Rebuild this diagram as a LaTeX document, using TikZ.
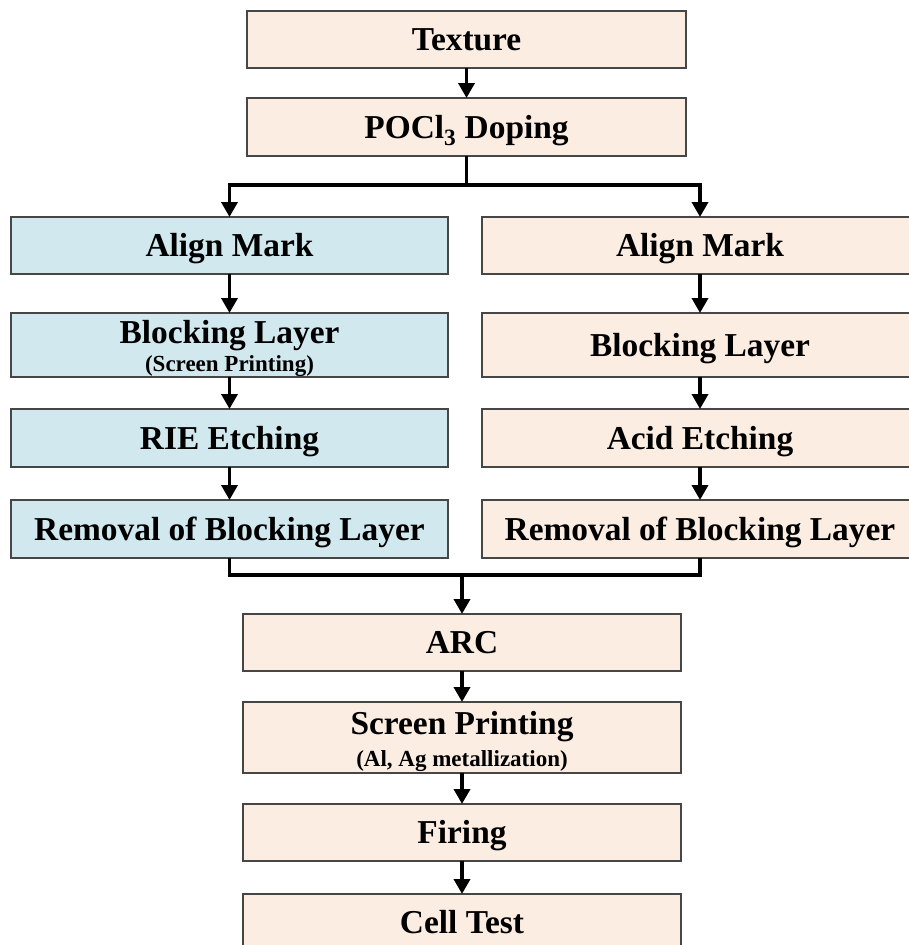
\documentclass[tikz,border=0pt]{standalone}
\usepackage{fontspec}
\setmainfont{Liberation Serif}
\usetikzlibrary{arrows.meta}
\definecolor{peach}{RGB}{252,237,226}
\definecolor{lblue}{RGB}{209,233,238}
\definecolor{edge}{RGB}{70,70,70}
\begin{document}
\begin{tikzpicture}[x=1pt,y=-1pt,
  box/.style={draw=edge, line width=1.3pt, fill=peach, inner sep=0pt, outer sep=0pt,
    font=\bfseries\fontsize{33.4}{36}\selectfont, text height=22.6pt, text depth=0pt},
  bluebox/.style={box, fill=lblue},
  maintxt/.style={font=\bfseries\fontsize{33.4}{36}\selectfont, anchor=base, inner sep=0pt},
  subtxt/.style={font=\bfseries\fontsize{23}{26}\selectfont, anchor=base, inner sep=0pt},
  conn/.style={line width=3.6pt, black},
  arr/.style={conn, -{Triangle[width=16pt,length=15pt]}}]
\useasboundingbox (0,0) rectangle (909,945);
% top
\node[box, minimum width=439pt, minimum height=57pt] (tex) at (466.5,39.5) {Texture};
\node[box, minimum width=439pt, minimum height=58pt] (poc) at (466.5,127) {POCl\textsubscript{3} Doping};
% left column
\node[bluebox, minimum width=437pt, minimum height=57pt] (alL) at (229.5,245.5) {Align Mark};
\node[bluebox, minimum width=437pt, minimum height=64pt] (blL) at (229.5,345) {};
\node[maintxt] (blLt) at (229.5,343) {Blocking Layer};
\node[subtxt] (blLs) at (229.5,371.5) {(Screen Printing)};
\node[bluebox, minimum width=437pt, minimum height=58pt] (etL) at (229.5,438) {RIE Etching};
\node[bluebox, minimum width=437pt, minimum height=58pt] (rmL) at (229.5,529) {Removal of Blocking Layer};
% right column
\node[box, minimum width=436pt, minimum height=57pt] (alR) at (700,245.5) {Align Mark};
\node[box, minimum width=436pt, minimum height=64pt] (blR) at (700,345) {Blocking Layer};
\node[box, minimum width=436pt, minimum height=58pt] (etR) at (700,438) {Acid Etching};
\node[box, minimum width=436pt, minimum height=58pt] (rmR) at (700,529) {Removal of Blocking Layer};
% bottom
\node[box, minimum width=438pt, minimum height=57pt] (arc) at (462,642.5) {ARC};
\node[box, minimum width=438pt, minimum height=71pt] (scr) at (462,737.5) {};
\node[maintxt] (scrt) at (462,734) {Screen Printing};
\node[subtxt] (scrs) at (462,766) {(Al, Ag metallization)};
\node[box, minimum width=438pt, minimum height=57pt] (fir) at (462,832.5) {Firing};
\node[box, minimum width=438pt, minimum height=57pt] (cel) at (462,922.5) {Cell Test};
% connectors
\coordinate (s1) at (466.5,185);
\coordinate (m1) at (462,575);
\draw[arr] (tex) -- (poc);
\draw[conn] (poc.south) -- (s1);
\draw[arr] (s1) -| (alL.north);
\draw[arr] (s1) -| (alR.north);
\draw[arr] (alL) -- (blL);
\draw[arr] (blL) -- (etL);
\draw[arr] (etL) -- (rmL);
\draw[arr] (alR) -- (blR);
\draw[arr] (blR) -- (etR);
\draw[arr] (etR) -- (rmR);
\draw[conn] (rmL.south) |- (m1) -| (rmR.south);
\draw[arr] (m1) -- (arc.north);
\draw[arr] (arc) -- (scr);
\draw[arr] (scr) -- (fir);
\draw[arr] (fir) -- (cel);
\end{tikzpicture}
\end{document}
